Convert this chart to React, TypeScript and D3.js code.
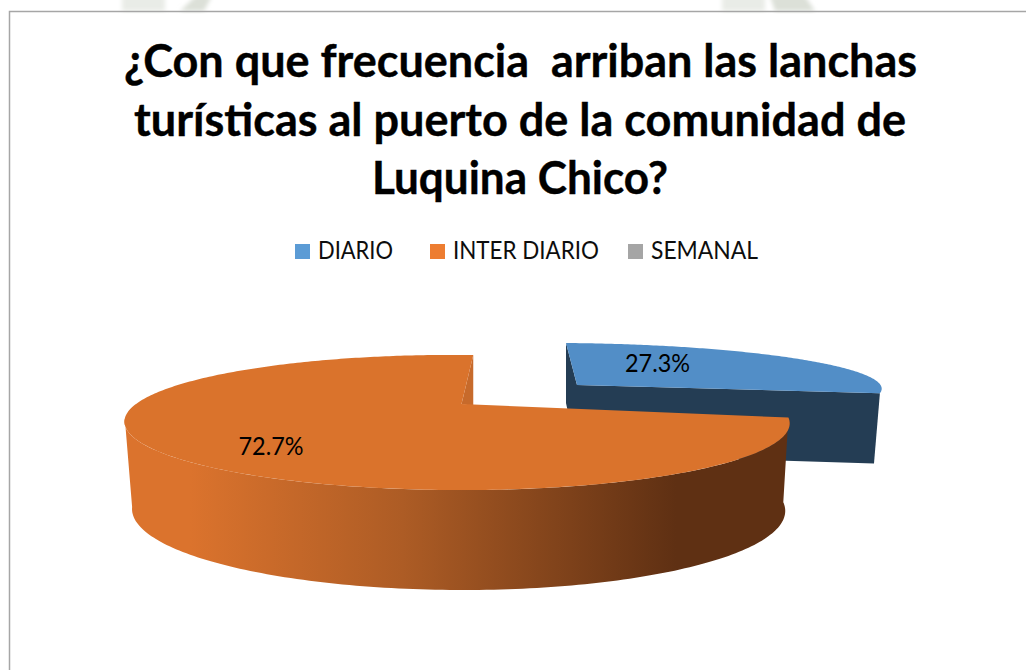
import React from "react";
import * as d3 from "d3";

const titleLines = [
  "¿Con que frecuencia  arriban las lanchas",
  "turísticas al puerto de la comunidad de",
  "Luquina Chico?",
];
const categories = ["DIARIO", "INTER DIARIO", "SEMANAL"];
const values = [27.3, 72.7, 0];
const legendColors = ["#5B9BD5", "#ED7D31", "#A5A5A5"];

const W = 1026;
const H = 670;

type Proj = { x: number; y: number; a: number; b: number; c: number; d: number; k: number };
type Pt = [number, number];

const project = (p: Proj, t: number, r = 1): Pt => {
  const u = Math.sin(t) * r;
  const v = -Math.cos(t) * r;
  const w = 1 - p.k * v;
  return [p.x + (p.a * u + p.b * v) / w, p.y + (p.c * u + p.d * v) / w];
};
const deg = (n: number) => (n * Math.PI) / 180;
const sample = (p: Proj, t0: number, t1: number, n = 160): Pt[] =>
  d3.range(n + 1).map((i) => project(p, t0 + ((t1 - t0) * i) / n));
const line = d3.line<Pt>().x((d) => d[0]).y((d) => d[1]);
const closed = (pts: Pt[]) => line(pts) + "Z";

// Projections of the pie's top and bottom faces
const blueTop: Proj = { x: 577, y: 385, a: 304.5, b: 11, c: 2.2, d: 42, k: 0 };
const blueBot: Proj = { x: 577, y: 454, a: 298.5, b: 11, c: 2.2, d: 51, k: 0 };
const orangeTop: Proj = { x: 461.5, y: 404, a: 319.5, b: -15, c: 4, d: 62.4, k: 0.274 };
const orangeBot: Proj = { x: 461, y: 488, a: 314, b: -8, c: 3, d: 74, k: 0.274 };

const arcs = d3
  .pie<number>()
  .sort(null)
  .startAngle(0)
  .endAngle(2 * Math.PI)(values);

export default function App() {
  const [blue, orange] = arcs;
  const V = project(orangeTop, 0, 0);
  const bV = project(blueTop, 0, 0);
  const bVb = project(blueBot, 0, 0);
  const visibleEnd = deg(254);
  const notchTop = project(orangeTop, orange.endAngle);

  const titleSpan: [number, number][] = [
    [124, 917],
    [134, 906],
    [372, 668],
  ];
  const titleBase = [77, 136, 194];
  const legendX = [295, 430, 628];
  const legendLen = [75, 146, 107];

  return (
    <svg
      width={W}
      height={H}
      viewBox={`0 0 ${W} ${H}`}
      style={{ position: "absolute", left: 0, top: 0, display: "block", background: "#fff" }}
    >
      <defs>
        <linearGradient id="wall" gradientUnits="userSpaceOnUse" x1={123} x2={789} y1={0} y2={0}>
          <stop offset="0" stopColor="#DB732D" />
          <stop offset="0.1" stopColor="#DB732D" />
          <stop offset="0.42" stopColor="#AD5C25" />
          <stop offset="0.83" stopColor="#5F3013" />
          <stop offset="1" stopColor="#5F3013" />
        </linearGradient>
        <filter id="soft" x="-20%" y="-20%" width="140%" height="140%">
          <feGaussianBlur stdDeviation="2" />
        </filter>
      </defs>

      {/* faint page watermark above the frame */}
      <g filter="url(#soft)">
        <path d="M122 -4H165V11H122Z M722 -4H765V11H722Z" fill="#E9ECE7" />
        <path d="M180 11L196 -4H212L204 11Z M775 11L770 -4H805L815 11Z" fill="#DCE0D8" />
      </g>

      {/* frame */}
      <path d={`M9.5 ${H}V11.5H${W}`} fill="none" stroke="#A6A6A6" strokeWidth={1.5} />

      {titleLines.map((t, i) => (
        <text
          key={i}
          x={titleSpan[i][0]}
          y={titleBase[i]}
          textLength={titleSpan[i][1] - titleSpan[i][0]}
          lengthAdjust="spacingAndGlyphs"
          xmlSpace="preserve"
          style={{ whiteSpace: "pre" }}
          fontFamily="Lato"
          fontWeight={700}
          fontSize={46}
          stroke="#000"
          strokeWidth={0.4}
          fill="#000"
        >
          {t}
        </text>
      ))}

      {categories.map((c, i) => (
        <g key={c}>
          <rect x={legendX[i]} y={244} width={15} height={15} fill={legendColors[i]} />
          <text
            x={legendX[i] + 23}
            y={259}
            textLength={legendLen[i]}
            lengthAdjust="spacingAndGlyphs"
            fontFamily="Lato"
            fontSize={24.5}
            fill="#0d0d0d"
          >
            {c}
          </text>
        </g>
      ))}

      {/* DIARIO slice, pulled out */}
      <path
        d={closed([project(blueTop, blue.startAngle), bV, bVb, project(blueBot, blue.startAngle)])}
        fill="#243D54"
      />
      <path
        d={closed([bV, project(blueTop, blue.endAngle), project(blueBot, blue.endAngle), bVb])}
        fill="#243D54"
      />
      <path d={closed([bV, ...sample(blueTop, blue.startAngle, blue.endAngle)])} fill="#528EC7" />

      {/* INTER DIARIO slice */}
      <path d={closed([notchTop, V, [notchTop[0], V[1] + 2]])} fill="#C76A2B" />
      <path
        d={closed([
          ...sample(orangeTop, orange.startAngle, visibleEnd),
          ...sample(orangeBot, orange.startAngle, visibleEnd).reverse(),
        ])}
        fill="url(#wall)"
      />
      <path d={closed([V, ...sample(orangeTop, orange.startAngle, orange.endAngle, 300)])} fill="#DA732C" />

      <text x={657.5} y={372} textAnchor="middle" textLength={65} lengthAdjust="spacingAndGlyphs" fontFamily="Lato" fontSize={24.5} fill="#000">
        {`${blue.value.toFixed(1)}%`}
      </text>
      <text x={271} y={455} textAnchor="middle" textLength={65} lengthAdjust="spacingAndGlyphs" fontFamily="Lato" fontSize={24.5} fill="#000">
        {`${orange.value.toFixed(1)}%`}
      </text>
    </svg>
  );
}
